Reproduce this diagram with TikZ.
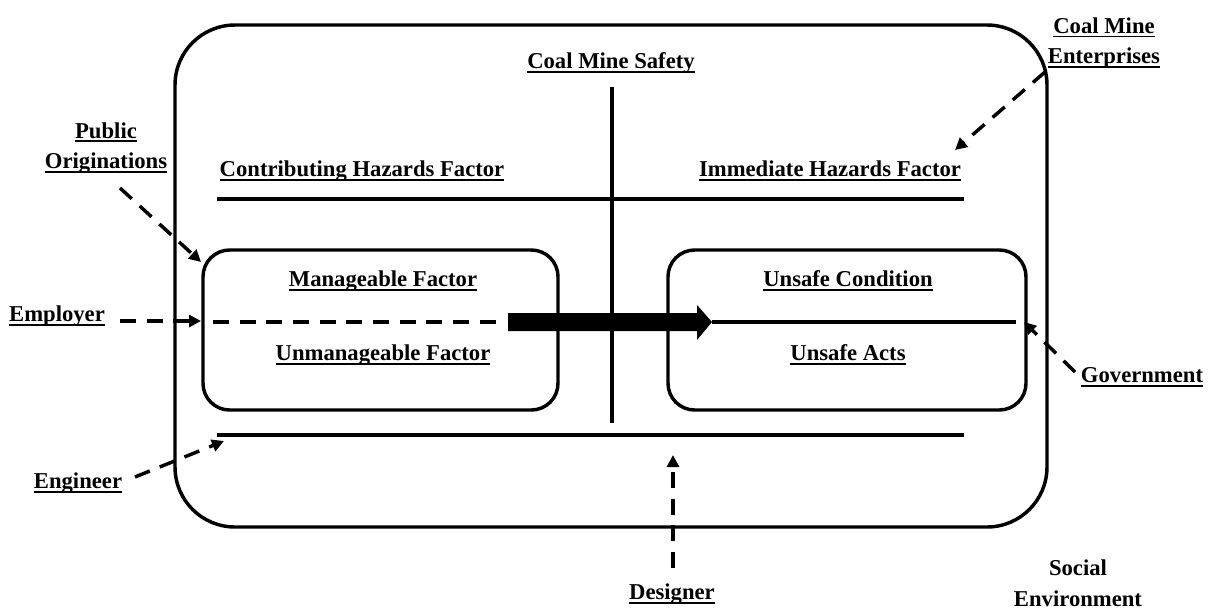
\documentclass[tikz,border=0pt]{standalone}
\usepackage{fontspec}
\setmainfont{Liberation Serif}
\usetikzlibrary{arrows.meta}
\newcommand\myul[1]{\setbox0\hbox{#1}\leavevmode\rlap{\rule[-3.2pt]{\wd0}{1.4pt}}\box0}
\begin{document}
\begin{tikzpicture}[x=0.75pt,y=-0.75pt,
  lbl/.style={font=\fontsize{17}{23}\selectfont\bfseries, inner sep=0pt, align=center},
  frame/.style={draw, line width=2.6pt, rounded corners=#1},
  bar/.style={line width=3.2pt},
  dsh/.style={line width=2.6pt, dash pattern=on 12pt off 8pt, -{Triangle[length=9pt,width=9pt]}},
]
\useasboundingbox (0,0) rectangle (1211,612);
% outer frame
\draw[frame=45pt] (175,25) rectangle (1047,527);
% central axis
\coordinate (vtop) at (612,87);
\coordinate (vbot) at (612,423);
\draw[bar] (vtop) -- (vbot);
\node[lbl] (cms) at (611,63) {\myul{Coal Mine Safety}};
\node[lbl] (chf) at (362,171) {\myul{Contributing Hazards Factor}};
\node[lbl] (ihf) at (830,171) {\myul{Immediate Hazards Factor}};
\coordinate (tl) at (217,199); \coordinate (tr) at (964,199);
\coordinate (bl) at (217,435); \coordinate (br) at (964,435);
\draw[bar] (tl) -- (tr);
\draw[bar] (bl) -- (br);
% inner boxes
\draw[frame=20pt] (203,250) rectangle (558,410);
\draw[frame=20pt] (668,250) rectangle (1026,410);
\coordinate (lbox) at (203,321);
\coordinate (rbox) at (1026,322);
\node[lbl] (mf) at (383,281) {\myul{Manageable Factor}};
\node[lbl] (uf) at (383,355) {\myul{Unmanageable Factor}};
\node[lbl] (uc) at (848,281) {\myul{Unsafe Condition}};
\node[lbl] (ua) at (848,355) {\myul{Unsafe Acts}};
% main flow
\coordinate (dstart) at (213,322);
\coordinate (dend) at (506,322);
\draw[line width=3pt, dash pattern=on 12pt off 8pt] (dstart) -- (dend);
\coordinate (atail) at (508,322);
\coordinate (atip) at (712,322);
\fill (508,313) -- (697,313) -- (697,305) -- (atip) -- (697,340) -- (697,331) -- (508,331) -- cycle;
\coordinate (lend) at (1016,322);
\draw[line width=3.5pt] (atip) -- (lend);
% outside actors
\node[lbl] (pub) at (106,148) {\myul{Public}\\\myul{Originations}};
\node[lbl] (emp) at (57,316) {\myul{Employer}};
\node[lbl] (eng) at (78,483) {\myul{Engineer}};
\node[lbl] (cme) at (1104,43) {\myul{Coal Mine}\\\myul{Enterprises}};
\node[lbl] (gov) at (1142,377) {\myul{Government}};
\node[lbl] (des) at (672,594) {\myul{Designer}};
\node[lbl] (soc) at (1078,583) {Social\\Environment};
\coordinate (pubA) at (120,188); \coordinate (pubB) at (201,262);
\coordinate (empA) at (120,321); \coordinate (empB) at (201,321);
\coordinate (engA) at (135,477); \coordinate (engB) at (224,441);
\coordinate (cmeA) at (1045,72); \coordinate (cmeB) at (955,150);
\coordinate (govA) at (1075,372); \coordinate (govB) at (1024,322);
\coordinate (desA) at (673,568); \coordinate (desB) at (673,455);
\draw[dsh] (pubA) -- (pubB);
\draw[dsh] (empA) -- (empB);
\draw[dsh] (engA) -- (engB);
\draw[dsh] (cmeA) -- (cmeB);
\draw[dsh] (govA) -- (govB);
\draw[dsh] (desA) -- (desB);
\end{tikzpicture}
\end{document}
